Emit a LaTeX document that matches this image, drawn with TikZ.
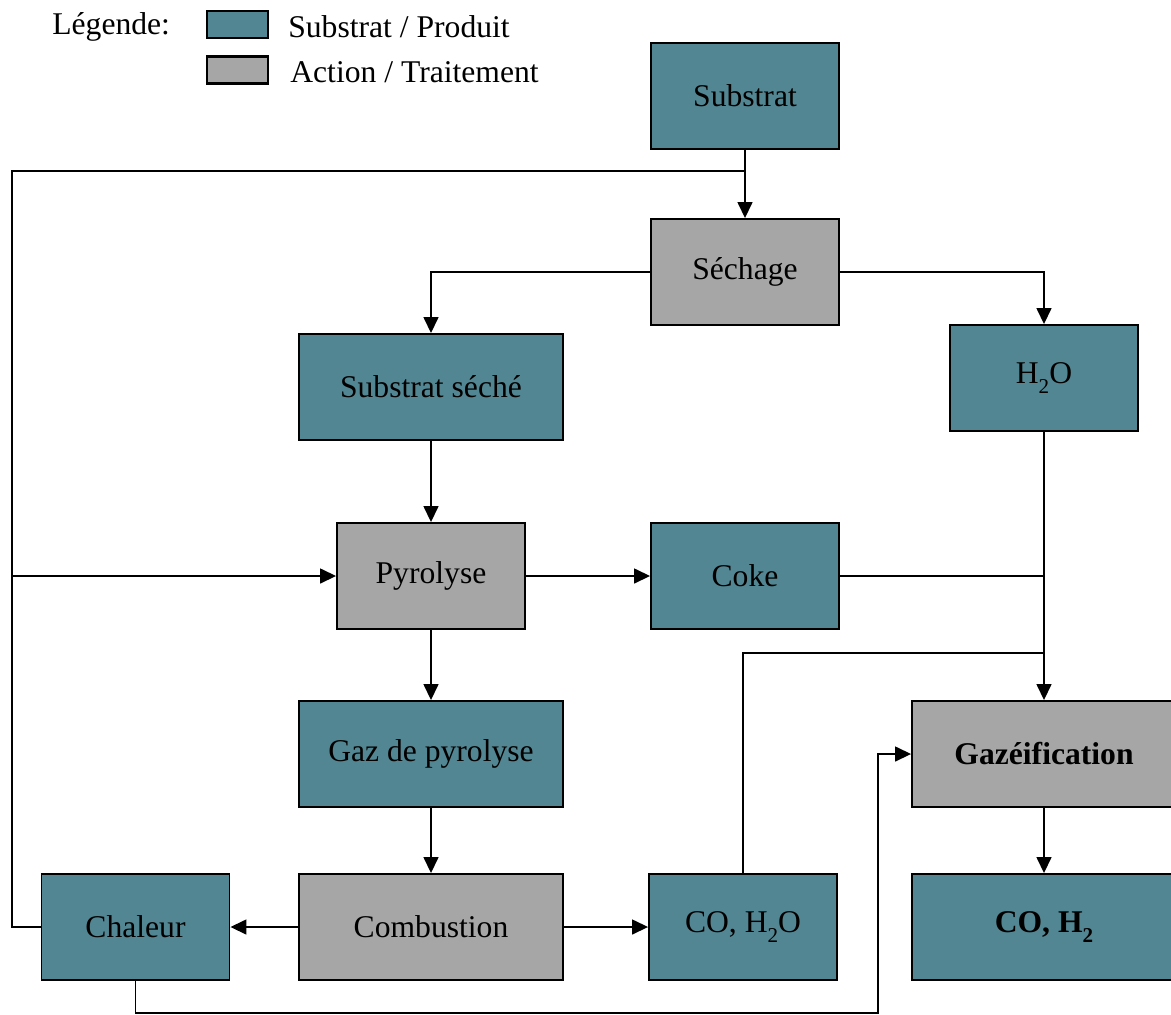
\documentclass[tikz,border=0pt]{standalone}
\usepackage{fontspec}
\setmainfont{Liberation Serif}
\usetikzlibrary{arrows.meta}
\definecolor{produitcol}{RGB}{82,134,146}
\definecolor{traitementcol}{RGB}{166,166,166}
\newcommand{\indice}[1]{\raisebox{-0.33em}{\fontsize{12}{12}\selectfont #1}}
\tikzstyle{produit}=[rectangle, draw=black, line width=1.1pt, fill=produitcol,
  minimum width=3.76cm, minimum height=2.12cm, inner sep=0pt,
  font=\fontsize{18}{21}\selectfont]
\tikzstyle{action}=[produit, fill=traitementcol]
\tikzstyle{large}=[minimum width=5.28cm]
\tikzstyle{legbox}=[rectangle, draw=black, line width=1.3pt,
  minimum width=1.22cm, minimum height=0.54cm, inner sep=0pt]
\tikzstyle{legtxt}=[anchor=west, inner sep=0pt, font=\fontsize{18}{21}\selectfont]
\tikzstyle{arrflux}=[-{Triangle[length=0.32cm,width=0.3cm]}, line width=0.85pt]
\tikzstyle{ligne}=[line width=0.85pt]

\begin{document}
\begin{tikzpicture}[x=0.02cm, y=-0.02cm]
\useasboundingbox (0,0) rectangle (1171,1015);
\clip (0,0) rectangle (1171,1015);

% legende
\node[legtxt] (legende) at (52,27) {Légende:};
\node[legbox, fill=produitcol] (legprod) at (237.5,24.5) {};
\node[legbox, fill=traitementcol] (legact) at (237.5,70) {};
\node[legtxt] (legprodtxt) at (288,27) {Substrat / Produit};
\node[legtxt] (legacttxt) at (290,72) {Action / Traitement};

\node[produit] (substrat) at (745,96) {Substrat};
\node[action] (sechage) at (745,272) {Séchage};
\node[produit, large] (sseche) at (431,387) {Substrat séché};
\node[produit] (eau) at (1044,378) {H\indice{2}O};
\node[action] (pyrolyse) at (431,576) {Pyrolyse};
\node[produit] (coke) at (745,576) {Coke};
\node[produit, large] (gaz) at (431,754) {Gaz de pyrolyse};
\node[action, large] (gazeif) at (1044,754) {\textbf{Gazéification}};
\node[produit] (chaleur) at (135.5,927) {Chaleur};
\node[action, large] (combustion) at (431,927) {Combustion};
\node[produit] (coh2o) at (743,927) {CO, H\indice{2}O};
\node[produit, large] (coh2) at (1044,927) {\textbf{CO, H\indice{2}}};

\coordinate (retour) at (12,171);
\coordinate (jonction) at (1044,653);
\coordinate (bas) at (878,1013);

\draw[arrflux] (substrat) -- (sechage);
\draw[arrflux] (sechage.west) -| (sseche.north);
\draw[arrflux] (sechage.east) -| (eau.north);
\draw[arrflux] (sseche) -- (pyrolyse);
\draw[arrflux] (pyrolyse) -- (coke);
\draw[arrflux] (pyrolyse) -- (gaz);
\draw[arrflux] (gaz) -- (combustion);
\draw[arrflux] (combustion) -- (chaleur);
\draw[arrflux] (combustion) -- (coh2o);
\draw[arrflux] (eau) -- (gazeif);
\draw[arrflux] (gazeif) -- (coh2);

% boucles de retour
\draw[ligne] (chaleur.west) -| (retour) -- (retour -| substrat.south);
\draw[arrflux] (retour |- pyrolyse.west) -- (pyrolyse.west);
\draw[ligne] (coke.east) -- (coke.east -| eau.south);
\draw[ligne] (coh2o.north) |- (jonction);
\draw[arrflux] (chaleur.south) |- (bas) |- (gazeif.west);

\end{tikzpicture}
\end{document}
